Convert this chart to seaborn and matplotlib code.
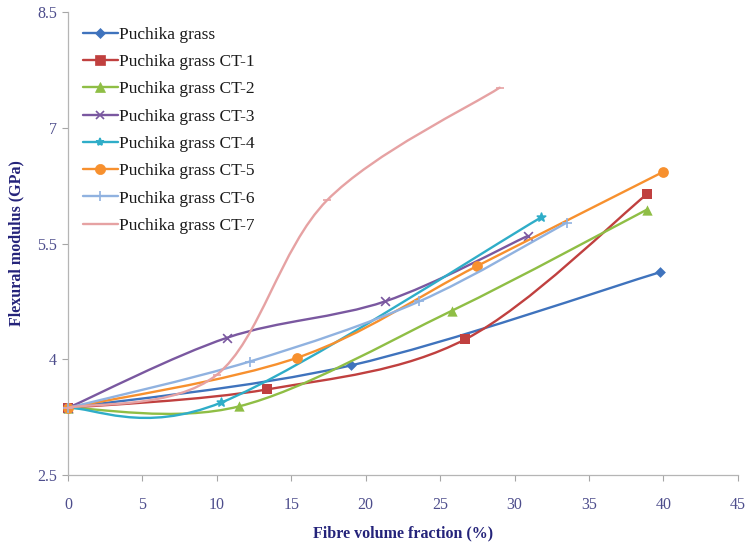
import numpy as np
import pandas as pd
import matplotlib
matplotlib.use("Agg")
import matplotlib.pyplot as plt
import seaborn as sns
from matplotlib.path import Path
from matplotlib.patches import PathPatch
from matplotlib.lines import Line2D

# ---- data ----
series_names = ["Puchika grass", "Puchika grass CT-1", "Puchika grass CT-2",
                "Puchika grass CT-3", "Puchika grass CT-4", "Puchika grass CT-5",
                "Puchika grass CT-6", "Puchika grass CT-7"]
x_pg   = [0, 19.0, 39.8]
y_pg   = [3.37, 3.92, 5.13]
x_ct1  = [0, 13.4, 26.7, 38.9]
y_ct1  = [3.37, 3.61, 4.26, 6.14]
x_ct2  = [0, 11.5, 25.8, 38.9]
y_ct2  = [3.37, 3.39, 4.63, 5.94]
x_ct3  = [0, 10.7, 21.3, 30.9]
y_ct3  = [3.37, 4.28, 4.75, 5.60]
x_ct4  = [0, 10.3, 31.8]
y_ct4  = [3.37, 3.44, 5.84]
x_ct5  = [0, 15.4, 27.5, 40.0]
y_ct5  = [3.37, 4.02, 5.21, 6.43]
x_ct6  = [0, 12.2, 23.6, 33.5]
y_ct6  = [3.37, 3.97, 4.75, 5.77]
x_ct7  = [0, 10.0, 17.4, 29.0]
y_ct7  = [3.37, 3.80, 6.06, 7.52]
x_ticks = [0, 5, 10, 15, 20, 25, 30, 35, 40, 45]
y_ticks = [2.5, 4, 5.5, 7, 8.5]
y_tick_labels = ["2.5", "4", "5.5", "7", "8.5"]

xs_all = [x_pg, x_ct1, x_ct2, x_ct3, x_ct4, x_ct5, x_ct6, x_ct7]
ys_all = [y_pg, y_ct1, y_ct2, y_ct3, y_ct4, y_ct5, y_ct6, y_ct7]

colors = ["#3f73bd", "#c0403f", "#8fbe45", "#7a58a0", "#2fadc8", "#f7902e",
          "#90b2e0", "#e6a2a3"]
markers = ["D", "s", "^", "x", "*", "o", "+", "_"]
msizes = [30, 48, 55, 40, 40, 60, 50, 30]

sns.set_theme(style="ticks")
plt.rcParams["font.family"] = ["Liberation Serif", "DejaVu Serif"]

fig = plt.figure(figsize=(7.46, 5.47), dpi=100)
ax = fig.add_axes([0.0912, 0.1316, 0.8978, 0.8464])


def smooth_path(xs, ys):
    P = np.column_stack([xs, ys]).astype(float)
    n = len(P)
    verts = [P[0]]
    codes = [Path.MOVETO]
    for i in range(n - 1):
        p0 = P[max(i - 1, 0)]
        p1 = P[i]
        p2 = P[i + 1]
        p3 = P[min(i + 2, n - 1)]
        c1 = p1 + (p2 - p0) / 6.0
        c2 = p2 - (p3 - p1) / 6.0
        verts += [c1, c2, p2]
        codes += [Path.CURVE4] * 3
    return Path(verts, codes)


LW = 1.7
handles = []
for k, (name, xs, ys) in enumerate(zip(series_names, xs_all, ys_all)):
    patch = PathPatch(smooth_path(xs, ys), facecolor="none", edgecolor=colors[k],
                      lw=LW, zorder=2 + k * 0.1, capstyle="round")
    ax.add_patch(patch)
    df = pd.DataFrame({"x": xs, "y": ys})
    lw_m = 1.2 if markers[k] in ("x", "+", "*", "_") else 0
    sns.scatterplot(data=df, x="x", y="y", ax=ax, color=colors[k], marker=markers[k],
                    s=msizes[k], linewidth=lw_m, edgecolor=colors[k] if lw_m == 0 else None,
                    zorder=2.05 + k * 0.1, legend=False, clip_on=False)
    handles.append(Line2D([0], [0], color=colors[k], lw=LW, marker=markers[k],
                          markersize=np.sqrt(msizes[k]) * 0.95,
                          markeredgewidth=1.2 if lw_m else 0.5,
                          markeredgecolor=colors[k], markerfacecolor=colors[k]))

ax.set_xlim(0, 45)
ax.set_ylim(2.5, 8.5)
ax.set_xticks(x_ticks)
ax.set_yticks(y_ticks)
ax.set_yticklabels(y_tick_labels)
ax.set_xticklabels([str(v) for v in x_ticks])

tick_color = "#4d4d8c"
ax.tick_params(axis="both", colors="#a6a6a6", labelcolor=tick_color, labelsize=11.5,
               length=4, width=0.8, direction="out")
ax.tick_params(axis="x", pad=12)
ax.tick_params(axis="y", pad=4)
for s in ["top", "right"]:
    ax.spines[s].set_visible(False)
for s in ["left", "bottom"]:
    ax.spines[s].set_color("#b5b5b5")
    ax.spines[s].set_linewidth(0.9)

label_color = "#24237a"
ax.set_xlabel("Fibre volume fraction (%)", fontsize=11.5, fontweight="bold",
              color=label_color, labelpad=9)
ax.set_ylabel("Flexural modulus (GPa)", fontsize=11.5, fontweight="bold",
              color=label_color, labelpad=9)

leg = ax.legend(handles, series_names, loc="upper left", bbox_to_anchor=(0.0, 1.0),
                frameon=False, fontsize=12.5, handlelength=2.0, handletextpad=0.1,
                labelspacing=0.64, borderaxespad=0.45)
for t in leg.get_texts():
    t.set_color("#1a1a1a")

fig.savefig("out.png", dpi=100)
